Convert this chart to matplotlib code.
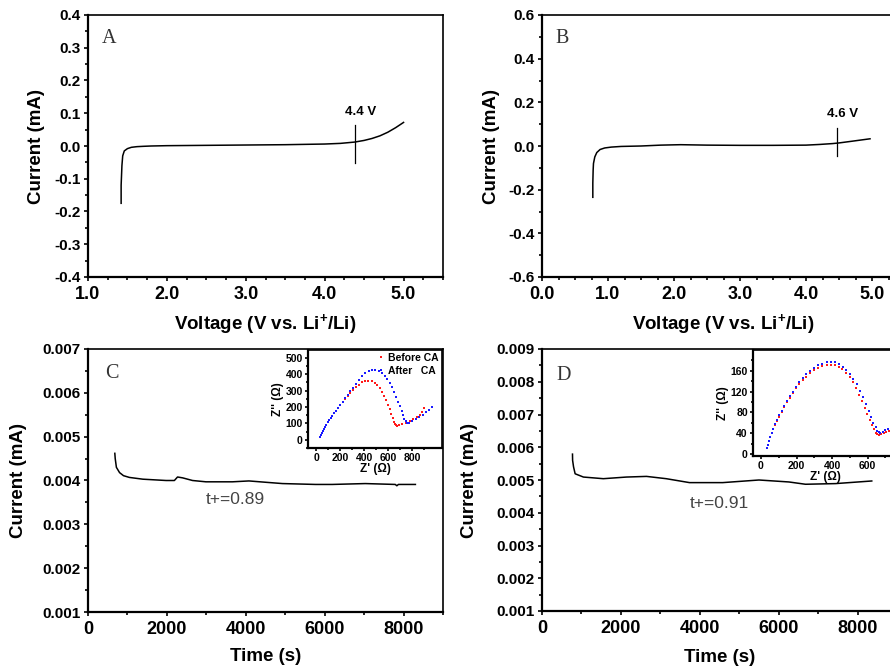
import matplotlib
matplotlib.use("Agg")
import matplotlib.pyplot as plt
from matplotlib.ticker import MultipleLocator, FormatStrFormatter, FixedLocator

plt.rcParams['font.family'] = ['Liberation Sans', 'DejaVu Sans']
plt.rcParams['font.weight'] = 'bold'
plt.rcParams['mathtext.fontset'] = 'custom'
plt.rcParams['mathtext.rm'] = 'Liberation Sans'
plt.rcParams['mathtext.bf'] = 'Liberation Sans:bold'

# --- panel A: LSV, cut-off 4.4 V
volt_a = [1.42, 1.42, 1.43, 1.44, 1.46, 1.50, 1.55, 1.62, 1.70, 1.80, 2.0, 2.5,
          3.0, 3.5, 4.0, 4.2, 4.38, 4.5, 4.6, 4.7, 4.8, 4.9, 5.0]
curr_a = [-0.175, -0.12, -0.06, -0.03, -0.015, -0.008, -0.004, -0.002, -0.001, 0.0,
          0.001, 0.002, 0.003, 0.004, 0.006, 0.008, 0.012, 0.017, 0.023, 0.031,
          0.042, 0.056, 0.072]
mark_a = 4.38

# --- panel B: LSV, cut-off 4.6 V
volt_b = [0.77, 0.77, 0.775, 0.78, 0.80, 0.83, 0.88, 0.95, 1.05, 1.2, 1.5, 1.8,
          2.1, 2.5, 3.0, 3.5, 4.0, 4.2, 4.4, 4.5, 4.7, 4.97]
curr_b = [-0.235, -0.17, -0.11, -0.08, -0.05, -0.03, -0.016, -0.009, -0.005,
          -0.002, 0.0, 0.004, 0.006, 0.004, 0.003, 0.003, 0.004, 0.007, 0.011,
          0.014, 0.022, 0.033]
mark_b = 4.47

# --- panel C: chronoamperometry
time_c = [680, 690, 720, 800, 900, 1050, 1390, 1980, 2190, 2270, 2400, 2650, 2990,
          3660, 4080, 4500, 4930, 5770, 6190, 7030, 7790, 7830, 7870, 8300]
curr_c = [0.00462, 0.0045, 0.0043, 0.00418, 0.00411, 0.00407, 0.00403, 0.0040,
          0.0040, 0.00408, 0.00406, 0.0040, 0.00397, 0.00397, 0.00399, 0.00396,
          0.00393, 0.00391, 0.00391, 0.00393, 0.00391, 0.00388, 0.00391, 0.00391]

# --- panel D: chronoamperometry
time_d = [773, 776, 800, 840, 1050, 1555, 2140, 2650, 3150, 3740, 4580, 5500,
          6260, 6680, 7440, 8360]
curr_d = [0.00579, 0.0056, 0.0054, 0.00519, 0.00509, 0.00504, 0.00509, 0.00511,
          0.00504, 0.00492, 0.00492, 0.0050, 0.00494, 0.00487, 0.00489, 0.00497]

# --- inset C: Nyquist
zre_c_before = [35, 40, 48, 56, 65, 75, 86, 98, 110, 123, 137, 152, 168, 185, 203,
                222, 242, 263, 285, 308, 332, 357, 383, 410, 437, 463, 488, 511,
                532, 551, 568, 584, 599, 613, 626, 638, 649, 659, 668, 676, 690,
                720, 750, 780, 810, 840, 865, 885, 900]
zim_c_before = [20, 28, 40, 52, 65, 78, 92, 106, 120, 134, 148, 162, 178, 194, 212,
                230, 248, 266, 284, 302, 320, 336, 350, 358, 360, 356, 346, 332,
                314, 292, 268, 242, 214, 186, 158, 132, 110, 95, 88, 86, 90, 96,
                105, 115, 125, 138, 152, 170, 195]
zre_c_after = [35, 40, 48, 56, 65, 75, 86, 98, 110, 123, 137, 152, 168, 185, 203,
               222, 242, 263, 285, 308, 332, 357, 383, 410, 438, 466, 494, 521,
               547, 571, 594, 615, 635, 653, 670, 686, 700, 713, 725, 736, 746,
               755, 762, 775, 800, 830, 860, 890, 920, 945, 965]
zim_c_after = [20, 28, 40, 52, 65, 78, 92, 106, 120, 134, 148, 162, 178, 194, 213,
               233, 253, 274, 296, 318, 342, 366, 388, 406, 419, 425, 424, 418,
               406, 390, 370, 346, 320, 292, 262, 232, 204, 176, 150, 128, 112,
               103, 100, 104, 112, 124, 138, 152, 168, 184, 198]

# --- inset D: Nyquist
zre_d_before = [35, 40, 46, 53, 61, 70, 80, 91, 103, 116, 130, 145, 161, 178, 196,
                215, 235, 256, 278, 300, 323, 346, 369, 392, 415, 437, 459, 480,
                500, 519, 537, 554, 570, 585, 599, 612, 624, 635, 645, 654, 662,
                675, 690, 705, 720, 735, 750, 765]
zim_d_before = [12, 18, 25, 32, 40, 48, 56, 64, 72, 81, 90, 99, 108, 117, 126,
                134, 142, 149, 155, 161, 166, 169, 171, 172, 171, 168, 163, 156,
                148, 138, 127, 114, 101, 88, 76, 65, 55, 47, 41, 38, 37, 38, 41,
                43, 45, 47, 49, 52]
zre_d_after = [35, 40, 46, 53, 61, 70, 80, 91, 103, 116, 130, 145, 161, 178, 196,
               215, 235, 256, 278, 300, 323, 346, 369, 392, 415, 438, 460, 481,
               501, 521, 540, 558, 575, 591, 606, 620, 633, 645, 655, 664, 672,
               685, 700, 715, 730, 745, 760, 775]
zim_d_after = [12, 18, 25, 32, 40, 48, 57, 65, 74, 83, 92, 102, 111, 120, 129,
               138, 146, 153, 160, 166, 171, 174, 176, 177, 176, 173, 168, 162,
               154, 145, 134, 122, 109, 96, 83, 71, 60, 51, 45, 42, 41, 43, 46,
               48, 51, 54, 56, 58]

W, H = 890, 669
fig = plt.figure(figsize=(W / 100, H / 100), dpi=100)


def px_axes(l, t, r, b):
    return fig.add_axes([l / W, 1 - b / H, (r - l) / W, (b - t) / H])


def style(ax, tick_fs_x=13, tick_fs_y=11, lw_major=3.2, lw_minor=2.0):
    for s in ['left', 'bottom']:
        ax.spines[s].set_linewidth(1.6)
    for s in ['top', 'right']:
        ax.spines[s].set_linewidth(1.2)
    ax.tick_params(which='both', direction='out', top=False, right=False, width=1.2)
    ax.tick_params(which='major', length=lw_major)
    ax.tick_params(which='minor', length=lw_minor)
    ax.tick_params(axis='x', labelsize=tick_fs_x, pad=3)
    ax.tick_params(axis='y', labelsize=tick_fs_y, pad=2)
    for lab in ax.get_xticklabels() + ax.get_yticklabels():
        lab.set_fontweight('bold')


def place_labels(ax, xlab, ylab, xy_x, xy_y, fs=13.5):
    ax.set_xlabel(xlab, fontsize=fs, fontweight='bold')
    ax.set_ylabel(ylab, fontsize=fs, fontweight='bold')
    ax.xaxis.set_label_coords(*xy_x)
    ax.yaxis.set_label_coords(*xy_y)
    ax.xaxis.label.set_verticalalignment('center')
    ax.yaxis.label.set_verticalalignment('center')


def letter(ax, s, x, y):
    ax.text(x, y, s, transform=ax.transAxes, fontsize=14.5, family='Liberation Serif',
            fontweight='normal', color='#333333', va='baseline', ha='left')


vlabel = r'Voltage (V vs. Li$^{\mathbf{+}}$/Li)'

# ---------- A
axA = px_axes(88, 15, 443, 277)
axA.plot(volt_a, curr_a, color='black', lw=1.1)
axA.plot([mark_a, mark_a], [-0.052, 0.064], color='black', lw=0.9)
axA.text(4.45, 0.104, '4.4 V', fontsize=9.5, fontweight='bold', ha='center', va='center')
axA.set_xlim(1.0, 5.5)
axA.set_ylim(-0.4, 0.4)
axA.xaxis.set_major_locator(MultipleLocator(1.0))
axA.xaxis.set_minor_locator(MultipleLocator(0.25))
axA.yaxis.set_major_locator(MultipleLocator(0.1))
axA.yaxis.set_minor_locator(MultipleLocator(0.05))
axA.xaxis.set_major_formatter(FormatStrFormatter('%.1f'))
axA.yaxis.set_major_formatter(FormatStrFormatter('%.1f'))
style(axA)
place_labels(axA, vlabel, 'Current (mA)', (0.5, -0.18), (-0.145, 0.5))
letter(axA, 'A', 0.039, 0.893)

# ---------- B
axB = px_axes(542, 15, 905, 277)
axB.plot(volt_b, curr_b, color='black', lw=1.1)
axB.plot([mark_b, mark_b], [-0.046, 0.082], color='black', lw=0.9)
axB.text(4.56, 0.146, '4.6 V', fontsize=9.5, fontweight='bold', ha='center', va='center')
axB.set_xlim(0.0, 5.5)
axB.set_ylim(-0.6, 0.6)
axB.xaxis.set_major_locator(MultipleLocator(1.0))
axB.xaxis.set_minor_locator(MultipleLocator(0.25))
axB.yaxis.set_major_locator(MultipleLocator(0.2))
axB.yaxis.set_minor_locator(MultipleLocator(0.1))
axB.xaxis.set_major_formatter(FormatStrFormatter('%.1f'))
axB.yaxis.set_major_formatter(FormatStrFormatter('%.1f'))
style(axB)
place_labels(axB, vlabel, 'Current (mA)', (0.5, -0.18), (-0.138, 0.5))
letter(axB, 'B', 0.036, 0.893)

# ---------- C
axC = px_axes(88, 349, 443, 612)
axC.plot(time_c, curr_c, color='black', lw=1.1)
axC.text(3730, 0.00356, 't+=0.89', fontsize=12.5, fontweight='normal', color='#444444',
         ha='center', va='center')
axC.set_xlim(0, 9000)
axC.set_ylim(0.001, 0.007)
axC.xaxis.set_major_locator(MultipleLocator(2000))
axC.xaxis.set_minor_locator(MultipleLocator(1000))
axC.yaxis.set_major_locator(MultipleLocator(0.001))
axC.yaxis.set_minor_locator(MultipleLocator(0.0005))
axC.yaxis.set_major_formatter(FormatStrFormatter('%.3f'))
style(axC)
place_labels(axC, 'Time (s)', 'Current (mA)', (0.5, -0.171), (-0.197, 0.5))
letter(axC, 'C', 0.048, 0.89)

# ---------- D
axD = px_axes(542, 349, 897, 611)
axD.plot(time_d, curr_d, color='black', lw=1.1)
axD.text(4490, 0.00427, 't+=0.91', fontsize=12.5, fontweight='normal', color='#444444',
         ha='center', va='center')
axD.set_xlim(0, 9000)
axD.set_ylim(0.001, 0.009)
axD.xaxis.set_major_locator(MultipleLocator(2000))
axD.xaxis.set_minor_locator(MultipleLocator(1000))
axD.yaxis.set_major_locator(MultipleLocator(0.001))
axD.yaxis.set_minor_locator(MultipleLocator(0.0005))
axD.yaxis.set_major_formatter(FormatStrFormatter('%.3f'))
style(axD)
place_labels(axD, 'Time (s)', 'Current (mA)', (0.5, -0.176), (-0.203, 0.5))
letter(axD, 'D', 0.042, 0.88)

# ---------- inset C
inC = px_axes(308, 350, 442, 448)
inC.plot(zre_c_before, zim_c_before, 's', color='#ff1a1a', ms=2.0, mew=0, label='Before CA')
inC.plot(zre_c_after, zim_c_after, 's', color='#1a1aff', ms=2.0, mew=0, label='After   CA')
inC.set_xlim(-67, 1050)
inC.set_ylim(-50, 548)
inC.xaxis.set_major_locator(FixedLocator([0, 200, 400, 600, 800]))
inC.xaxis.set_minor_locator(FixedLocator([100, 300, 500, 700, 900]))
inC.yaxis.set_major_locator(MultipleLocator(100))
inC.yaxis.set_minor_locator(MultipleLocator(50))
style(inC, tick_fs_x=7.5, tick_fs_y=7.5, lw_major=2.2, lw_minor=1.3)
inC.tick_params(axis='both', pad=1.5)
inC.set_xlabel("Z' (\u03a9)", fontsize=8.5, fontweight='bold', labelpad=0)
inC.set_ylabel("Z'' (\u03a9)", fontsize=8.5, fontweight='bold', labelpad=1)
inC.legend(loc='upper right', frameon=False, handlelength=0.6,
           handletextpad=0.4, borderpad=0.1, labelspacing=0.25, borderaxespad=0.2,
           prop={'weight': 'bold', 'size': 7.5})

# ---------- inset D
inD = px_axes(753, 350, 897, 456)
inD.plot(zre_d_before, zim_d_before, 's', color='#ff1a1a', ms=2.0, mew=0)
inD.plot(zre_d_after, zim_d_after, 's', color='#1a1aff', ms=2.0, mew=0)
inD.set_xlim(-45, 766)
inD.set_ylim(-4, 200)
inD.xaxis.set_major_locator(MultipleLocator(200))
inD.xaxis.set_minor_locator(MultipleLocator(100))
inD.yaxis.set_major_locator(FixedLocator([0, 40, 80, 120, 160]))
inD.yaxis.set_minor_locator(FixedLocator([20, 60, 100, 140, 180]))
style(inD, tick_fs_x=7.5, tick_fs_y=7.5, lw_major=2.2, lw_minor=1.3)
inD.tick_params(axis='both', pad=1.5)
inD.set_xlabel("Z' (\u03a9)", fontsize=8.5, fontweight='bold', labelpad=0)
inD.set_ylabel("Z'' (\u03a9)", fontsize=8.5, fontweight='bold', labelpad=1)

fig.savefig('out.png', dpi=100)
